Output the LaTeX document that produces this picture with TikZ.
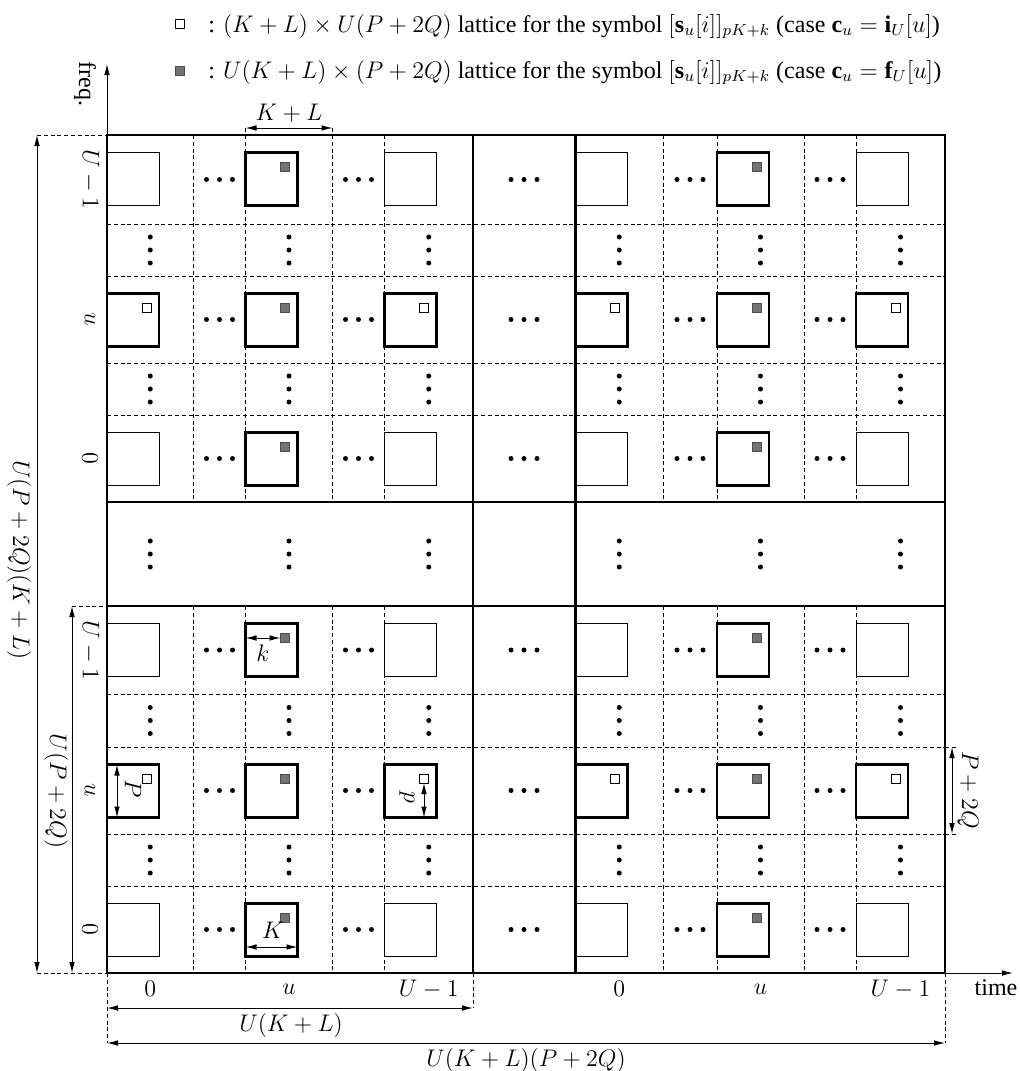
\documentclass[tikz,border=0pt,12pt]{standalone}
\usepackage{fontspec}
\setmainfont{Liberation Serif}
\usetikzlibrary{arrows.meta}
\newcommand\mydotsh[2]{\foreach \dd in {-13,0,13} \fill (#1+\dd,#2) circle (1.25pt);}
\newcommand\mydotsv[2]{\foreach \dd in {-13,0,13} \fill (#1,#2+\dd) circle (1.25pt);}
\begin{document}
\begin{tikzpicture}[x=0.5pt,y=-0.5pt,
  heavy/.style={line width=1.3pt},
  gridln/.style={line width=0.45pt, dash pattern=on 2pt off 1.4pt},
  thinsq/.style={draw, line width=0.5pt},
  thicksq/.style={draw, line width=1.1pt},
  graysq/.style={fill=black!55, draw=black!70, line width=0.3pt},
  whitesq/.style={draw, fill=white, line width=0.5pt},
  dim/.style={line width=0.5pt, {Latex[length=5.5pt,width=2.8pt]}-{Latex[length=5.5pt,width=2.8pt]}},
  axis/.style={line width=0.5pt, -{Latex[length=5.5pt,width=2.8pt]}},
  lab/.style={inner sep=0pt},
  rlab/.style={inner sep=0pt, rotate=-90}]
\useasboundingbox (0,0) rectangle (1019,1071);

% ---------- dashed grid ----------
\foreach \x in {193.5,245.5,332.5,384.5,663,717,804,856} {
  \draw[gridln] (\x,135) -- (\x,502);
  \draw[gridln] (\x,606) -- (\x,973);
}
\draw[gridln] (245.5,128) -- (245.5,135);
\draw[gridln] (332.5,128) -- (332.5,135);
\foreach \y in {224,276,363,415,694,747,834,886} {
  \draw[gridln] (107,\y) -- (945,\y);
}
\draw[gridln] (945,747) -- (957,747);
\draw[gridln] (945,834) -- (957,834);
\draw[gridln] (37,135) -- (107,135);
\draw[gridln] (37,973) -- (107,973);
\draw[gridln] (72,606) -- (107,606);
\draw[gridln] (107,973) -- (107,1043);
\draw[gridln] (473,973) -- (473,1008);
\draw[gridln] (945,973) -- (945,1043);

% ---------- squares ----------
\foreach \T in {135,415,606,886} {
  \foreach \L in {107,384.5,575.5,856} {
    \draw[thinsq] (\L,\T+17.5) rectangle ++(52,53);
  }
}
\foreach \T in {135,276,415,606,747,886} {
  \foreach \L in {245.5,717} {
    \draw[thicksq] (\L,\T+17.5) rectangle ++(52,53);
    \filldraw[graysq] (\L+35,\T+27.5) rectangle ++(9,9);
  }
}
\foreach \T in {276,747} {
  \foreach \L in {107,384.5,575.5,856} {
    \draw[thicksq] (\L,\T+17.5) rectangle ++(52,53);
    \draw[whitesq] (\L+35,\T+27) rectangle ++(9,9);
  }
}

% ---------- dots ----------
\foreach \y in {179.5,319.5,458.5,650,790.5,929.5} {
  \foreach \x in {219.5,358.5,524,690,830} { \mydotsh{\x}{\y} }
}
\foreach \y in {250,389,554,720.5,860} {
  \foreach \x in {150.25,289,428.75,619.25,760.5,900.5} { \mydotsv{\x}{\y} }
}

% ---------- axes ----------
\coordinate (O) at (107,973);
\coordinate (ftip) at (107,64);
\coordinate (ttip) at (1013,973);
\draw[axis] (O) -- (ftip);
\draw[axis] (O) -- (ttip);
\node[rlab] (freq) at (85,84) {freq.};
\node[lab] (time) at (996,988) {time};

% ---------- heavy lines ----------
\draw[heavy] (107,135) rectangle (945,973);
\draw[heavy] (107,502) -- (945,502);
\draw[heavy] (107,606) -- (945,606);
\draw[heavy] (473,135) -- (473,973);
\draw[heavy] (575.5,135) -- (575.5,973);

% ---------- row labels ----------
\node[rlab] (rA) at (90,179.5) {$U-1$};
\node[rlab] (rB) at (90,319.5) {$u$};
\node[rlab] (rC) at (90,458.5) {$0$};
\node[rlab] (rD) at (90,650) {$U-1$};
\node[rlab] (rE) at (90,790.5) {$u$};
\node[rlab] (rF) at (90,929.5) {$0$};

% ---------- column labels ----------
\node[lab] (cA) at (150.25,989) {$0$};
\node[lab] (cB) at (289,989) {$u$};
\node[lab] (cC) at (428.75,989) {$U-1$};
\node[lab] (cD) at (619.25,989) {$0$};
\node[lab] (cE) at (760.5,989) {$u$};
\node[lab] (cF) at (900.5,989) {$U-1$};

% ---------- dimensions ----------
\coordinate (kl1) at (245.5,128); \coordinate (kl2) at (332.5,128);
\draw[dim] (kl1) -- (kl2);
\node[lab] (KL) at (289,113) {$K+L$};

\coordinate (bA1) at (37,135); \coordinate (bA2) at (37,973);
\draw[dim] (bA1) -- (bA2);
\node[rlab] (bigl) at (19,560) {$U(P+2Q)(K+L)$};

\coordinate (bB1) at (72,606); \coordinate (bB2) at (72,973);
\draw[dim] (bB1) -- (bB2);
\node[rlab] (midl) at (56,791) {$U(P+2Q)$};

\coordinate (P1) at (117,764.5); \coordinate (P2) at (117,817.5);
\draw[dim] (P1) -- (P2);
\node[rlab] (Plab) at (133,789) {$P$};

\coordinate (p1) at (424,783); \coordinate (p2) at (424,817.5);
\draw[dim] (p1) -- (p2);
\node[rlab] (plab) at (407,797) {$p$};

\coordinate (k1) at (245.5,638); \coordinate (k2) at (280.5,638);
\draw[dim] (k1) -- (k2);
\node[lab] (klab) at (263,653) {$k$};

\coordinate (K1) at (245.5,947); \coordinate (K2) at (297.5,947);
\draw[dim] (K1) -- (K2);
\node[lab] (Klab) at (273,930) {$K$};

\coordinate (q1) at (952,747); \coordinate (q2) at (952,834);
\draw[dim] (q1) -- (q2);
\node[rlab] (qlab) at (968,790) {$P+2Q$};

\coordinate (u1) at (107,1008); \coordinate (u2) at (473,1008);
\draw[dim] (u1) -- (u2);
\node[lab] (ulab) at (291,1025) {$U(K+L)$};

\coordinate (w1) at (107,1043); \coordinate (w2) at (945,1043);
\draw[dim] (w1) -- (w2);
\node[lab] (wlab) at (526,1060) {$U(K+L)(P+2Q)$};

% ---------- legend ----------
\draw[whitesq] (175.5,19.5) rectangle (184.5,28.5);
\filldraw[graysq] (175.5,66.5) rectangle (184.5,75.5);
\node[lab, anchor=base west] (leg1) at (208,32)
  {: $(K+L)\times U(P+2Q)$ lattice for the symbol $[\mathbf{s}_u[i]]_{pK+k}$ (case $\mathbf{c}_u=\mathbf{i}_U[u]$)};
\node[lab, anchor=base west] (leg2) at (208,78)
  {: $U(K+L)\times(P+2Q)$ lattice for the symbol $[\mathbf{s}_u[i]]_{pK+k}$ (case $\mathbf{c}_u=\mathbf{f}_U[u]$)};
\end{tikzpicture}
\end{document}
